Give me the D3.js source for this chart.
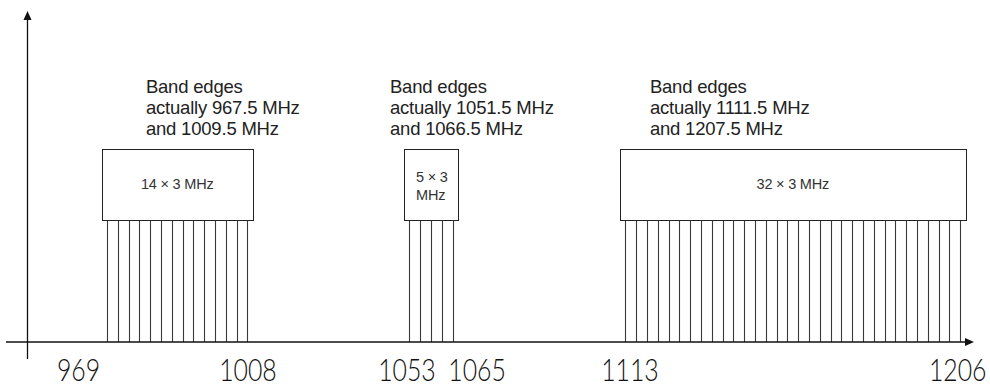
<!DOCTYPE html>
<html>
<head>
<meta charset="utf-8">
<script src="https://cdn.jsdelivr.net/npm/d3@7/dist/d3.min.js"></script>
<style>
  html, body { margin: 0; padding: 0; background: #fff; }
  svg { display: block; }
</style>
</head>
<body>
<svg id="chart" width="990" height="389"></svg>
<script>
// ---------------- data ----------------
const channels1 = [969, 972, 975, 978, 981, 984, 987, 990, 993, 996, 999, 1002, 1005, 1008];
const channels2 = [1053, 1056, 1059, 1062, 1065];
const channels3 = [1113, 1116, 1119, 1122, 1125, 1128, 1131, 1134, 1137, 1140, 1143, 1146, 1149, 1152, 1155, 1158,
                   1161, 1164, 1167, 1170, 1173, 1176, 1179, 1182, 1185, 1188, 1191, 1194, 1197, 1200, 1203, 1206];
const bandLow  = [967.5, 1051.5, 1111.5];
const bandHigh = [1009.5, 1066.5, 1207.5];
const boxLabels = [["14 \u00d7 3 MHz"], ["5 \u00d7 3", "MHz"], ["32 \u00d7 3 MHz"]];
const noteLines = [
  ["Band edges", "actually 967.5 MHz", "and 1009.5 MHz"],
  ["Band edges", "actually 1051.5 MHz", "and 1066.5 MHz"],
  ["Band edges", "actually 1111.5 MHz", "and 1207.5 MHz"]
];
const tickLabels = [969, 1008, 1053, 1065, 1113, 1206];
const channelLevel = 37;   // height of channel lines (arbitrary units)
const boxTopLevel = 58.5;  // top of band boxes (arbitrary units)

// ---------------- layout ----------------
const svg = d3.select("#chart");
const x = d3.scaleLinear().domain([969, 1206]).range([107, 960.2]);
const y = d3.scaleLinear().domain([0, 100]).range([342, 12]);
const axisX0 = 27.5;
const noteAnchor = [979.8, 1047.6, 1119.8];   // frequency where note text starts
const noteTopY = 93;
const tickShift = [-29, 0, -3, 24, 4, -3];    // label nudges (px) as drawn in the original

const textFont = "'Liberation Sans', Arial, sans-serif";

// channel lines
const groups = [channels1, channels2, channels3];
groups.forEach((ch) => {
  svg.append("g").selectAll("line").data(ch).join("line")
    .attr("x1", d => Math.round(x(d)) + 0.5)
    .attr("x2", d => Math.round(x(d)) + 0.5)
    .attr("y1", y(0))
    .attr("y2", y(channelLevel))
    .attr("stroke", "#3a3a3a")
    .attr("stroke-width", 1.1);
});

// band boxes
const bands = bandLow.map((lo, i) => ({lo, hi: bandHigh[i], label: boxLabels[i], note: noteLines[i], anchor: noteAnchor[i]}));
svg.append("g").selectAll("rect").data(bands).join("rect")
  .attr("x", d => Math.round(x(d.lo)) + 0.5)
  .attr("y", Math.round(y(boxTopLevel)) + 0.5)
  .attr("width", d => Math.round(x(d.hi) - x(d.lo)))
  .attr("height", Math.round(y(channelLevel) - y(boxTopLevel)))
  .attr("fill", "#fff")
  .attr("stroke", "#222")
  .attr("stroke-width", 1);

// box labels
bands.forEach((d) => {
  const cy = (y(channelLevel) + y(boxTopLevel)) / 2;
  if (d.label.length === 1) {
    svg.append("text")
      .attr("x", (x(d.lo) + x(d.hi)) / 2)
      .attr("y", cy + 5)
      .attr("text-anchor", "middle")
      .attr("font-family", textFont)
      .attr("font-size", 14.5)
      .attr("letter-spacing", -0.2)
      .attr("fill", "#333")
      .text(d.label[0]);
  } else {
    d.label.forEach((t, k) => {
      svg.append("text")
        .attr("x", x(d.lo) + 12)
        .attr("y", cy - 2 + k * 18)
        .attr("font-family", textFont)
        .attr("font-size", 14.5)
        .attr("letter-spacing", -0.2)
        .attr("fill", "#333")
        .text(t);
    });
  }
});

// notes
bands.forEach(d => {
  d.note.forEach((t, k) => {
    svg.append("text")
      .attr("x", x(d.anchor))
      .attr("y", noteTopY + k * 21)
      .attr("font-family", textFont)
      .attr("font-size", 18.5)
      .attr("letter-spacing", -0.2)
      .attr("fill", "#222")
      .text(t);
  });
});

// axes lines with arrows
const axisY = y(0);
svg.append("line")
  .attr("x1", 6).attr("x2", 967)
  .attr("y1", axisY).attr("y2", axisY)
  .attr("stroke", "#111").attr("stroke-width", 1.3);
svg.append("path")
  .attr("d", `M974,${axisY} L965,${axisY - 4} L965,${axisY + 4} Z`)
  .attr("fill", "#111");
svg.append("line")
  .attr("x1", axisX0).attr("x2", axisX0)
  .attr("y1", 19).attr("y2", 359)
  .attr("stroke", "#111").attr("stroke-width", 1.3);
svg.append("path")
  .attr("d", `M${axisX0},11 L${axisX0 - 4},20 L${axisX0 + 4},20 Z`)
  .attr("fill", "#111");

// tick labels via d3 axis
const xAxis = d3.axisBottom(x).tickValues(tickLabels).tickSize(0).tickPadding(0).tickFormat(d3.format("d"));
const gA = svg.append("g").attr("transform", `translate(0,${axisY + 17})`).call(xAxis);
gA.select(".domain").remove();
gA.selectAll(".tick text")
  .attr("dy", "0.71em")
  .attr("x", (d, i) => tickShift[i] / 0.8)
  .attr("transform", "scale(0.8,1)")
  .attr("font-family", "Lato, 'Liberation Sans', sans-serif")
  .attr("font-weight", 300)
  .attr("font-size", 31)
  .attr("fill", "#111");
</script>
</body>
</html>
